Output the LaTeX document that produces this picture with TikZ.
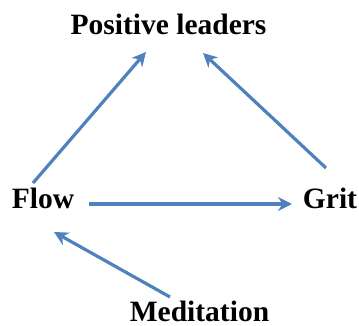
\documentclass[tikz,border=0pt]{standalone}
\usepackage{fontspec}
\setmainfont{Liberation Serif}
\usetikzlibrary{arrows.meta}
\definecolor{linkblue}{RGB}{79,129,189}
\begin{document}
\begin{tikzpicture}[x=1pt,y=-1pt,
  lbl/.style={font=\bfseries\fontsize{29.5}{31}\selectfont, inner sep=0pt, anchor=base, text depth=0pt},
  link/.style={draw=linkblue, line width=3.2pt,
    -{Stealth[length=14pt,width=14pt,inset=4.5pt]}}]
\useasboundingbox (0,0) rectangle (359,326);
\node[lbl] (pos) at (168.5,35) {Positive leaders};
\node[lbl] (flow) at (43,208) {Flow};
\node[lbl] (grit) at (330,208) {Grit};
\node[lbl] (med) at (199.5,321.5) {Meditation};
\coordinate (flowtop) at (33,183);
\coordinate (posleft) at (146,52);
\coordinate (grittop) at (326,168);
\coordinate (posright) at (203,53);
\coordinate (flowright) at (89,204);
\coordinate (gritleft) at (292,204);
\coordinate (medtop) at (170,297);
\coordinate (flowbottom) at (54,232);
\draw[link] (flowtop) -- (posleft);
\draw[link] (grittop) -- (posright);
\draw[link] (flowright) -- (gritleft);
\draw[link] (medtop) -- (flowbottom);
\end{tikzpicture}
\end{document}
